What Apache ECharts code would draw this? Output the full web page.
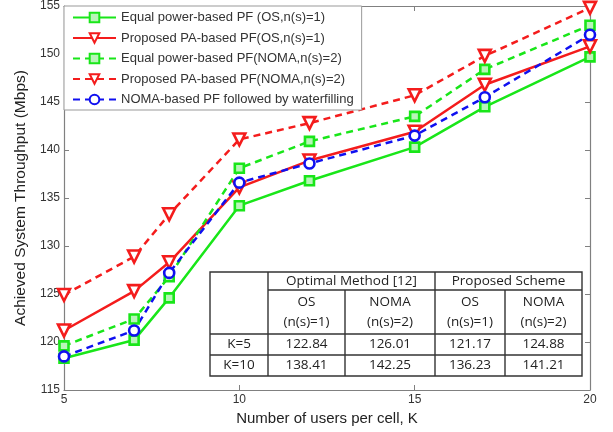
<!DOCTYPE html>
<html>
<head>
<meta charset="utf-8">
<script src="https://cdn.jsdelivr.net/npm/echarts@6/dist/echarts.min.js"></script>
<style>html,body{margin:0;padding:0;background:#fff}#c{width:613px;height:432px}</style>
</head>
<body>
<div id="c"></div>
<script>
var K = [5, 7, 8, 10, 12, 15, 17, 20];
var eqOS   = [118.3, 120.2, 124.6, 134.2, 136.8, 140.3, 144.5, 149.7];
var paOS   = [121.2, 125.3, 128.3, 136.1, 138.9, 141.9, 146.8, 150.8];
var eqNOMA = [119.6, 122.4, 126.8, 138.1, 140.9, 143.5, 148.4, 153.0];
var paNOMA = [124.9, 128.9, 133.3, 141.1, 142.8, 145.7, 149.8, 154.8];
var wfNOMA = [118.5, 121.2, 127.2, 136.6, 138.6, 141.5, 145.5, 152.0];
var seriesNames = [
  'Equal power-based PF (OS,n(s)=1)',
  'Proposed PA-based PF(OS,n(s)=1)',
  'Equal power-based PF(NOMA,n(s)=2)',
  'Proposed PA-based PF(NOMA,n(s)=2)',
  'NOMA-based PF followed by waterfilling'
];
var tableGroups = ['Optimal Method [12]', 'Proposed Scheme'];
var tableSubTop = ['OS', 'NOMA', 'OS', 'NOMA'];
var tableSubBottom = ['(n(s)=1)', '(n(s)=2)', '(n(s)=1)', '(n(s)=2)'];
var tableRows = ['K=5', 'K=10'];
var tableValues = [
  ['122.84', '126.01', '121.17', '124.88'],
  ['138.41', '142.25', '136.23', '141.21']
];

function pairs(ys){ return K.map(function(k,i){ return [k, ys[i]]; }); }

var GREEN = '#19e619', RED = '#f41c1c', BLUE = '#1010f0';
var downTri = 'path://M0,0 L10,0 L5,9 Z';

function mk(name, data, color, dashed, symbol, size, fill){
  return {
    name: name, type: 'line', data: pairs(data),
    symbol: symbol, symbolSize: size,
    lineStyle: {color: color, width: 2.5, type: dashed ? [7,5] : 'solid'},
    itemStyle: {color: fill, borderColor: color, borderWidth: 2.6},
    z: 3
  };
}

// table graphics
var X = [210, 268, 345, 435, 505, 582];
var Y = [272, 290, 334, 355, 376];
var font = '13.5px "Open Sans", sans-serif';
var tc = '#222';
var g = [];
g.push({type:'rect', shape:{x:X[0], y:Y[0], width:X[5]-X[0], height:Y[4]-Y[0]}, style:{fill:'#fff', stroke:'#333', lineWidth:1.4}, z:10});
function ln(x1,y1,x2,y2){ g.push({type:'line', shape:{x1:x1,y1:y1,x2:x2,y2:y2}, style:{stroke:'#333', lineWidth:1.4}, z:11}); }
ln(X[1], Y[1], X[5], Y[1]);
ln(X[0], Y[2], X[5], Y[2]);
ln(X[0], Y[3], X[5], Y[3]);
ln(X[1], Y[0], X[1], Y[4]);
ln(X[3], Y[0], X[3], Y[4]);
ln(X[2], Y[1], X[2], Y[4]);
ln(X[4], Y[1], X[4], Y[4]);
function tx(s, x, y){ g.push({type:'text', x:x, y:y, style:{text:s, font:font, fill:tc, align:'center', verticalAlign:'middle'}, z:12}); }
tx(tableGroups[0], (X[1]+X[3])/2, (Y[0]+Y[1])/2);
tx(tableGroups[1], (X[3]+X[5])/2, (Y[0]+Y[1])/2);
for (var c=0;c<4;c++){
  var cx = (X[c+1]+X[c+2])/2;
  tx(tableSubTop[c], cx, 302);
  tx(tableSubBottom[c], cx, 322);
  for (var r=0;r<2;r++) tx(tableValues[r][c], cx, (Y[2+r]+Y[3+r])/2);
}
for (var r=0;r<2;r++) tx(tableRows[r], (X[0]+X[1])/2, (Y[2+r]+Y[3+r])/2);

var axisCol = '#808080';
var lab = {color:'#333', fontSize:12, fontFamily:'Arial, "Liberation Sans", sans-serif'};
var chart = echarts.init(document.getElementById('c'), null, {renderer:'canvas'});
chart.setOption({
  animation: false,
  backgroundColor: '#fff',
  grid: {left: 64, right: 23, top: 6, bottom: 42},
  legend: {
    orient: 'vertical', left: 64, top: 6, padding: [5, 8, 4, 8],
    itemWidth: 43, itemHeight: 12, itemGap: 7.5,
    backgroundColor: '#fff', borderColor: '#999', borderWidth: 1,
    textStyle: {color:'#333', fontSize: 13, fontFamily:'Arial, "Liberation Sans", sans-serif'},
    data: seriesNames
  },
  xAxis: [{
    type: 'value', min: 5, max: 20, interval: 5,
    name: 'Number of users per cell, K', nameLocation: 'middle', nameGap: 20,
    nameTextStyle: {color:'#222', fontSize: 15, fontFamily:'Arial, "Liberation Sans", sans-serif'},
    axisLine: {lineStyle:{color: axisCol, width: 1.2}},
    axisTick: {inside: true, length: 5, lineStyle:{color: axisCol}},
    axisLabel: Object.assign({margin: 4}, lab),
    splitLine: {show: false}
  },{
    type: 'value', min: 5, max: 20, interval: 5, position: 'top',
    axisLine: {lineStyle:{color: axisCol, width: 1.2}},
    axisTick: {inside: true, length: 5, lineStyle:{color: axisCol}},
    axisLabel: {show:false}, splitLine: {show:false}
  }],
  yAxis: [{
    type: 'value', min: 115, max: 155, interval: 5,
    name: 'Achieved System Throughput (Mbps)', nameLocation: 'middle', nameGap: 34, nameRotate: 90,
    nameTextStyle: {color:'#222', fontSize: 15.5, fontFamily:'Arial, "Liberation Sans", sans-serif'},
    axisLine: {show: true, lineStyle:{color: axisCol, width: 1.2}},
    axisTick: {show: true, inside: true, length: 5, lineStyle:{color: axisCol}},
    axisLabel: Object.assign({margin: 4}, lab),
    splitLine: {show: false}
  },{
    type: 'value', min: 115, max: 155, interval: 5, position: 'right',
    axisLine: {show: true, lineStyle:{color: axisCol, width: 1.2}},
    axisTick: {show: true, inside: true, length: 5, lineStyle:{color: axisCol}},
    axisLabel: {show:false}, splitLine: {show:false}
  }],
  graphic: g,
  series: [
    mk(seriesNames[0], eqOS, GREEN, false, 'rect', 9, '#b8f5b8'),
    mk(seriesNames[1], paOS, RED, false, downTri, 12, '#fff'),
    mk(seriesNames[2], eqNOMA, GREEN, true, 'rect', 9, '#b8f5b8'),
    mk(seriesNames[3], paNOMA, RED, true, downTri, 12, '#fff'),
    mk(seriesNames[4], wfNOMA, BLUE, true, 'circle', 10, '#fff')
  ]
});
</script>
</body>
</html>
